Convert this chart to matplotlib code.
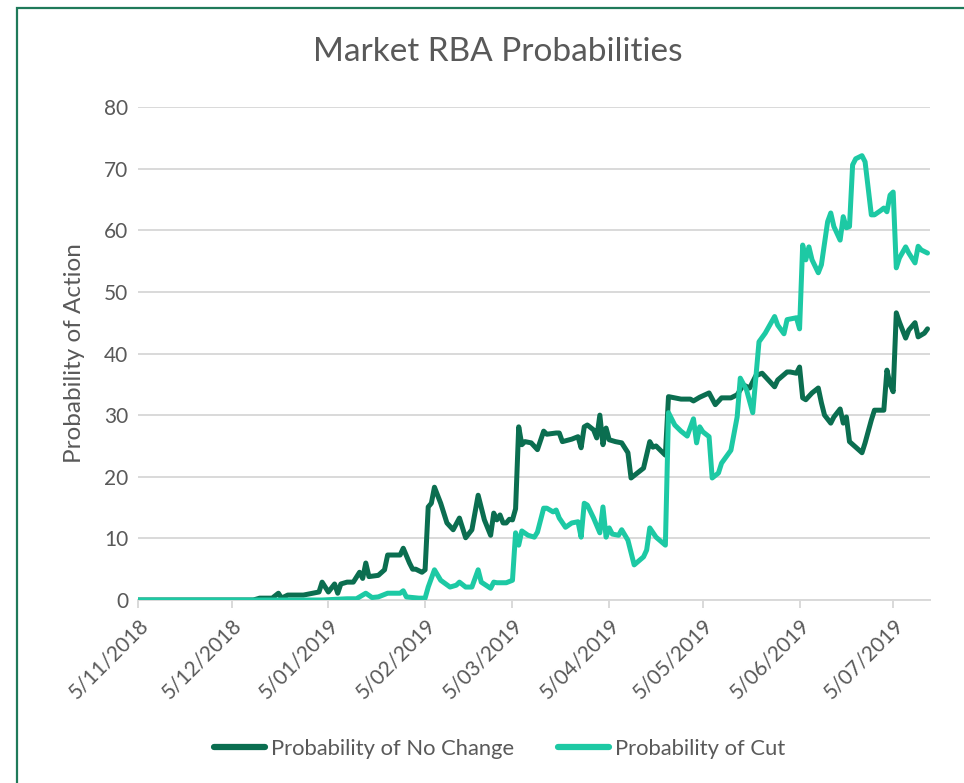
import matplotlib
matplotlib.use("Agg")
import matplotlib.pyplot as plt
from matplotlib.patches import Rectangle
import pandas as pd

# ---------------- data ----------------
start_date = "2018-11-05"

nc_days = [0, 37, 39, 43, 45, 46, 48, 53, 58, 59, 61, 63, 64, 65, 67, 69, 71, 72, 73, 74,
           77, 79, 80, 84, 85, 87, 88, 89, 91, 92, 93, 94, 95, 97, 99, 101, 103, 105, 107, 109,
           111, 113, 114, 115, 116, 117, 118, 119, 120, 121, 122, 123, 124, 126, 128, 130, 131, 134, 135, 136,
           139, 141, 142, 143, 144, 146, 147, 148, 149, 150, 151, 153, 155, 157, 158, 160, 162, 164, 165, 166,
           169, 170, 172, 174, 177, 178, 180, 183, 185, 187, 190, 192, 194, 196, 198, 200, 204, 205, 208, 209,
           211, 212, 213, 214, 216, 218, 219, 220, 222, 223, 225, 226, 227, 228, 230, 232, 233, 235, 236, 239,
           240, 241, 242, 243, 244, 246, 247, 249, 250, 252, 253]
nc_values = [0, 0, 0.3, 0.3, 1.1, 0.3, 0.8, 0.8, 1.3, 2.9, 1.3, 2.6, 1.1, 2.6, 2.9, 2.9, 4.5, 3.5, 6.0, 3.8,
             4.0, 4.9, 7.3, 7.3, 8.4, 6.0, 5.0, 5.0, 4.5, 4.9, 15.1, 15.7, 18.3, 15.7, 12.5, 11.4, 13.3, 10.1, 11.4, 17.0,
             13.0, 10.5, 14.1, 13.0, 13.8, 12.5, 12.5, 13.1, 13.0, 14.8, 28.1, 25.2, 25.7, 25.5, 24.4, 27.4, 26.9, 27.1, 27.1, 25.7,
             26.1, 26.5, 24.7, 28.1, 28.4, 27.6, 26.3, 30.0, 25.2, 27.9, 26.0, 25.7, 25.5, 23.9, 19.8, 20.6, 21.4, 25.7, 24.8, 25.0,
             23.5, 33.0, 32.8, 32.6, 32.6, 32.3, 32.9, 33.6, 31.7, 32.8, 32.8, 33.3, 34.9, 34.4, 36.4, 36.8, 34.6, 35.7, 37.0, 37.0,
             36.8, 37.8, 32.8, 32.5, 33.6, 34.4, 32.0, 30.0, 28.7, 29.7, 31.0, 28.7, 29.7, 25.7, 24.8, 23.9, 25.5, 29.2, 30.8, 30.8,
             37.3, 35.0, 33.8, 46.6, 45.1, 42.5, 43.8, 45.0, 42.7, 43.3, 44.0]

cut_days = [0, 59, 67, 70, 71, 73, 75, 77, 80, 84, 85, 86, 90, 92, 93, 94, 95, 97, 100, 102,
            103, 105, 107, 109, 110, 113, 114, 115, 118, 120, 121, 122, 123, 125, 127, 128, 130, 131, 133, 134,
            135, 137, 139, 141, 142, 143, 144, 146, 148, 149, 150, 151, 152, 154, 155, 157, 159, 162, 163, 164,
            166, 169, 170, 172, 174, 176, 178, 179, 180, 181, 183, 184, 186, 187, 190, 192, 193, 195, 197, 199,
            201, 204, 205, 207, 208, 211, 212, 213, 214, 215, 216, 218, 219, 221, 222, 223, 225, 226, 227, 228,
            229, 230, 232, 233, 235, 236, 238, 239, 240, 241, 242, 243, 244, 246, 247, 249, 250, 251, 253]
cut_values = [0, 0, 0.2, 0.2, 0.5, 1.1, 0.4, 0.5, 1.1, 1.1, 1.5, 0.5, 0.3, 0.3, 2.1, 3.5, 4.9, 3.2, 2.1, 2.4,
              2.9, 2.1, 2.1, 4.9, 2.9, 1.9, 2.9, 2.8, 2.8, 3.2, 10.9, 8.9, 11.2, 10.5, 10.2, 11.0, 14.9, 14.9, 14.3, 14.6,
              13.3, 11.8, 12.5, 12.7, 10.2, 15.7, 15.4, 13.3, 10.9, 15.1, 10.2, 11.7, 10.7, 10.5, 11.4, 9.7, 5.7, 7.0, 8.1, 11.7,
              10.2, 8.9, 30.4, 28.4, 27.4, 26.6, 29.4, 25.5, 28.1, 27.3, 26.5, 19.8, 20.6, 22.2, 24.3, 29.7, 36.0, 34.1, 30.4, 41.9,
              43.3, 46.0, 44.6, 43.2, 45.5, 45.8, 44.0, 57.6, 55.2, 57.3, 55.2, 53.1, 54.4, 61.4, 62.8, 60.6, 58.4, 62.2, 60.4, 60.6,
              70.6, 71.6, 72.1, 71.1, 62.5, 62.5, 63.2, 63.6, 63.0, 65.7, 66.2, 53.9, 55.5, 57.3, 56.3, 54.7, 57.4, 56.8, 56.3]

tick_labels = ["5/11/2018", "5/12/2018", "5/01/2019", "5/02/2019", "5/03/2019",
               "5/04/2019", "5/05/2019", "5/06/2019", "5/07/2019"]
y_ticks = [0, 10, 20, 30, 40, 50, 60, 70, 80]
series_names = ["Probability of No Change", "Probability of Cut"]
title = "Market RBA Probabilities"
y_label = "Probability of Action"

# ---------------- styling ----------------
plt.rcParams["font.family"] = ["Lato", "DejaVu Sans"]
TXT = "#595959"
GRID = "#d9d9d9"
C_NC = "#0b6e50"
C_CUT = "#1dc9a4"

t0 = pd.Timestamp(start_date)
nc_x = t0 + pd.to_timedelta(nc_days, unit="D")
cut_x = t0 + pd.to_timedelta(cut_days, unit="D")
tick_x = [pd.to_datetime(s, format="%d/%m/%Y") for s in tick_labels]

fig = plt.figure(figsize=(9.64, 7.83), dpi=100)
W, H = 964, 783
ax = fig.add_axes([138 / W, 1 - 600 / H, (930 - 138) / W, (600 - 107) / H])

ax.plot(nc_x, nc_values, color=C_NC, lw=3.6, solid_joinstyle="round", solid_capstyle="round",
        label=series_names[0], zorder=3)
ax.plot(cut_x, cut_values, color=C_CUT, lw=3.6, solid_joinstyle="round", solid_capstyle="round",
        label=series_names[1], zorder=3)

ax.set_ylim(0, 80)
ax.set_yticks(y_ticks)
ax.set_xlim(t0, t0 + pd.Timedelta(days=253.8))
ax.set_xticks(tick_x)
ax.set_xticklabels(tick_labels, rotation=45, ha="right", rotation_mode="anchor")
ax.grid(axis="y", color=GRID, lw=1.4, zorder=0)
for s in ["top", "right", "left"]:
    ax.spines[s].set_visible(False)
ax.spines["bottom"].set_color(GRID)
ax.spines["bottom"].set_linewidth(1.4)
ax.tick_params(axis="y", length=0, pad=7, labelsize=15, labelcolor=TXT)
ax.tick_params(axis="x", length=6, width=1.4, color=GRID, pad=5, labelsize=15, labelcolor=TXT)

ax.set_ylabel(y_label, fontsize=17.5, color=TXT, labelpad=14)
fig.text(497.5 / W, 1 - 52 / H, title, ha="center", va="center", fontsize=24, color=TXT)

leg = fig.legend(loc="center", bbox_to_anchor=(500 / W, 1 - 749 / H), ncol=2, frameon=False,
                 fontsize=15.8, labelcolor=TXT, handlelength=2.3, handletextpad=0.3,
                 columnspacing=2.0)
for lh in leg.get_lines():
    lh.set_linewidth(4.5)
    lh.set_solid_capstyle("round")

# green chart frame (partially cropped in the reference)
fig.patches.append(Rectangle((17 / W, -0.1), 1.2, 1 - 7.5 / H + 0.1, transform=fig.transFigure,
                             fill=False, edgecolor="#1f7a5a", lw=1.6))

fig.savefig("out.png", dpi=100, facecolor="white")
